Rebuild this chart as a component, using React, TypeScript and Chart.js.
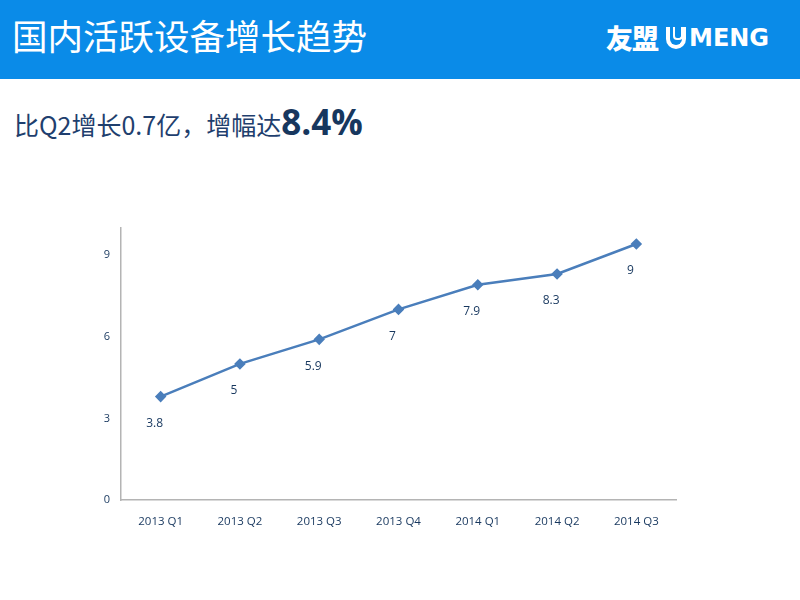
import React, { useEffect, useRef } from "react";
import { Chart, registerables } from "chart.js";

Chart.register(...registerables);

const categories = ["2013 Q1", "2013 Q2", "2013 Q3", "2013 Q4", "2014 Q1", "2014 Q2", "2014 Q3"];
const values = [3.8, 5.0, 5.9, 7.0, 7.9, 8.3, 9.4];
const valueLabels = ["3.8", "5", "5.9", "7", "7.9", "8.3", "9"];
const yTicks = [0, 3, 6, 9];

const NAVY = "#17375e";
const LINE = "#4a7ebb";

const labelPlugin = {
  id: "pointLabels",
  afterDatasetsDraw(chart: any) {
    const { ctx } = chart;
    const meta = chart.getDatasetMeta(0);
    ctx.save();
    ctx.font = "12px 'Open Sans', 'Liberation Sans', sans-serif";
    ctx.fillStyle = NAVY;
    ctx.textAlign = "center";
    ctx.textBaseline = "middle";
    meta.data.forEach((pt: any, i: number) => {
      ctx.fillText(valueLabels[i], pt.x - 6, pt.y + 27);
    });
    ctx.restore();
  },
};

export default function App() {
  const ref = useRef<HTMLCanvasElement | null>(null);
  useEffect(() => {
    if (!ref.current) return;
    const chart = new Chart(ref.current, {
      type: "line",
      data: {
        labels: categories,
        datasets: [
          {
            data: values,
            borderColor: LINE,
            backgroundColor: LINE,
            borderWidth: 2.5,
            pointStyle: "rectRot",
            pointRadius: 4,
            pointBackgroundColor: LINE,
            pointBorderColor: LINE,
            tension: 0,
          },
        ],
      },
      options: {
        animation: false,
        responsive: false,
        maintainAspectRatio: false,
        layout: { padding: { left: 0, right: 124, top: 15, bottom: 0 } },
        plugins: { legend: { display: false }, tooltip: { enabled: false } },
        scales: {
          x: {
            offset: true,
            grid: { display: false, drawTicks: false },
            border: { display: true, color: "#b4b4b4", width: 1.5 },
            ticks: {
              color: NAVY,
              padding: 15,
              font: { size: 11.5, family: "'Open Sans', 'Liberation Sans', sans-serif" },
            },
          },
          y: {
            min: 0,
            max: 10,
            afterFit(scale: any) {
              scale.width = 121;
            },
            afterBuildTicks(scale: any) {
              scale.ticks = yTicks.map((v) => ({ value: v }));
            },
            grid: { display: false, drawTicks: false },
            border: { display: true, color: "#b4b4b4", width: 1.5 },
            ticks: {
              color: NAVY,
              padding: 11,
              font: { size: 11, family: "'Open Sans', 'Liberation Sans', sans-serif" },
            },
          },
        },
      },
      plugins: [labelPlugin],
    });
    return () => chart.destroy();
  }, []);

  return (
    <div
      style={{
        position: "absolute",
        left: 0,
        top: 0,
        width: 800,
        height: 600,
        background: "#ffffff",
        overflow: "hidden",
        fontFamily: "'Noto Sans CJK SC', sans-serif",
      }}
    >
      <div
        style={{
          position: "absolute",
          left: 0,
          top: 0,
          width: 800,
          height: 79,
          background: "#0a8be8",
        }}
      />
      <div
        style={{
          position: "absolute",
          left: 12,
          top: 11,
          color: "#ffffff",
          fontSize: 35.5,
          lineHeight: "48px",
          fontWeight: 400,
          whiteSpace: "nowrap",
        }}
      >
        国内活跃设备增长趋势
      </div>
      <div
        style={{
          position: "absolute",
          left: 606,
          top: 20,
          color: "#ffffff",
          fontSize: 27,
          lineHeight: "36px",
          fontWeight: 900,
          whiteSpace: "nowrap",
          display: "flex",
          alignItems: "center",
        }}
      >
        <span style={{ letterSpacing: -1 }}>友盟</span>
        <span
          style={{
            display: "inline-block",
            width: 20,
            height: 22,
            marginLeft: 8,
            marginRight: 3,
            borderRadius: "0 0 11px 11px",
            border: "4px solid #ffffff",
            borderTop: "none",
            boxSizing: "border-box",
            position: "relative",
          }}
        >
          <span
            style={{
              position: "absolute",
              left: 3,
              top: 0,
              width: 6,
              height: 11,
              borderRadius: "0 0 4px 4px",
              border: "2px solid #ffffff",
              borderTop: "none",
            }}
          />
        </span>
        <span
          style={{
            fontFamily: "'DejaVu Sans', sans-serif",
            fontWeight: 700,
            fontSize: 24,
            letterSpacing: 0,
          }}
        >
          MENG
        </span>
      </div>
      <div
        style={{
          position: "absolute",
          left: 14,
          top: 100,
          color: "#1f3f6e",
          fontSize: 25,
          lineHeight: "44px",
          whiteSpace: "nowrap",
          display: "flex",
          alignItems: "baseline",
        }}
      >
        <span>比Q2增长0.7亿，增幅达</span>
        <span
          style={{
            fontFamily: "'Open Sans', 'Liberation Sans', sans-serif",
            fontWeight: 700,
            fontSize: 35,
            color: "#17375e",
          }}
        >
          8.4%
        </span>
      </div>
      <canvas
        ref={ref}
        width={800}
        height={334}
        style={{ position: "absolute", left: 0, top: 210, width: 800, height: 334 }}
      />
    </div>
  );
}
